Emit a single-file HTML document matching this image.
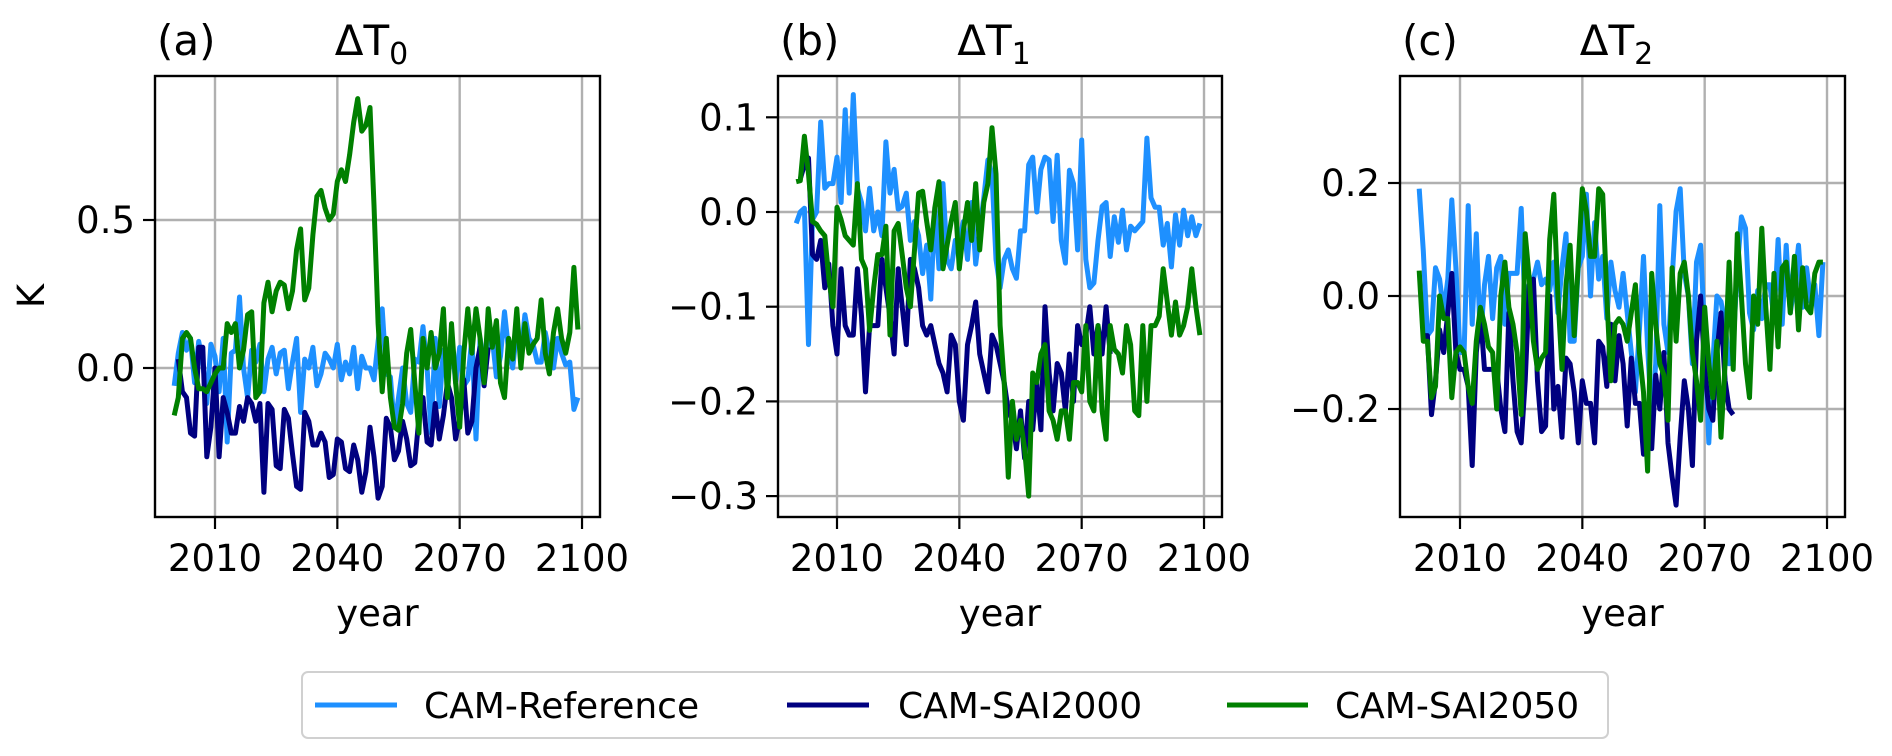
<!DOCTYPE html>
<html><head><meta charset="utf-8">
<style>
html,body{margin:0;padding:0;background:#fff;}
svg{display:block;font-family:"DejaVu Sans","Liberation Sans",sans-serif;}
</style></head>
<body>
<svg id="fig" width="1892" height="756" viewBox="0 0 1892 756" xmlns="http://www.w3.org/2000/svg">
<rect x="0" y="0" width="1892" height="756" fill="#fff"/>
<text x="44" y="296" font-size="37" text-anchor="middle" transform="rotate(-90 44 296)">K</text>
<g>
<rect x="302" y="672" width="1306" height="66" rx="6" fill="#fff" stroke="#d0d0d0" stroke-width="2"/>
<line x1="315" y1="705" x2="397" y2="705" stroke="#1e90ff" stroke-width="5"/>
<text x="424" y="718" font-size="36">CAM-Reference</text>
<line x1="787" y1="705" x2="869" y2="705" stroke="#000080" stroke-width="5"/>
<text x="898" y="718" font-size="36">CAM-SAI2000</text>
<line x1="1227" y1="705" x2="1308" y2="705" stroke="#008000" stroke-width="5"/>
<text x="1335" y="718" font-size="36">CAM-SAI2050</text>
</g>
</svg>
<script>
const xTickYears = [2010, 2040, 2070, 2100];
const refStart = 2000, sai2000Start = 2001, sai2050Start = 2000;

const refA = [
-0.06,0.05,0.12,0.06,0.10,-0.05,0.09,0.02,-0.12,0.08,
0.04,-0.08,0.10,-0.25,0.05,0.06,0.24,0.00,-0.10,0.06,
0.02,0.08,-0.08,0.03,0.07,-0.02,0.05,0.06,-0.07,0.02,
0.10,-0.15,0.03,0.00,0.07,-0.06,-0.02,0.05,0.03,0.00,
0.08,-0.04,0.02,-0.02,0.07,-0.07,0.04,0.00,0.00,-0.04,
0.09,0.20,-0.02,-0.03,-0.20,-0.10,0.00,-0.12,-0.15,0.03,
0.02,0.14,0.00,-0.22,0.10,-0.13,0.06,-0.02,0.10,-0.05,
0.07,-0.06,-0.04,0.10,-0.24,0.10,0.01,0.09,0.10,-0.03,
0.04,0.19,0.06,0.00,0.13,0.05,0.18,0.10,0.08,0.02,
0.02,0.12,0.05,0.00,0.10,0.05,0.01,0.02,-0.14,-0.10];
const sai2000A = [
0.03,-0.08,-0.10,-0.22,-0.23,0.07,0.07,-0.30,-0.20,0.00,
-0.30,-0.10,-0.15,-0.22,-0.22,-0.13,-0.18,-0.10,-0.12,-0.18,
-0.12,-0.42,-0.12,-0.14,-0.33,-0.34,-0.14,-0.17,-0.29,-0.40,
-0.41,-0.15,-0.18,-0.26,-0.26,-0.22,-0.25,-0.37,-0.36,-0.24,
-0.25,-0.34,-0.35,-0.26,-0.31,-0.42,-0.35,-0.20,-0.30,-0.44,
-0.40,-0.17,-0.20,-0.31,-0.28,-0.18,-0.24,-0.33,-0.32,-0.17,
-0.10,-0.25,-0.26,-0.12,-0.24,-0.16,-0.05,-0.10,-0.24,-0.17,
-0.04,-0.22,-0.18,0.00,0.07,-0.06,0.07];
const sai2050A = [
-0.16,-0.10,0.10,0.12,0.10,0.00,-0.07,-0.07,-0.08,-0.05,
-0.02,0.00,0.00,0.15,0.12,0.15,0.00,0.06,0.18,0.19,
-0.10,-0.08,0.22,0.29,0.19,0.26,0.29,0.28,0.20,0.26,
0.40,0.47,0.23,0.27,0.45,0.58,0.60,0.54,0.50,0.52,
0.63,0.67,0.63,0.72,0.83,0.91,0.80,0.82,0.88,0.55,
0.15,-0.08,0.10,-0.10,-0.20,-0.21,-0.12,0.05,0.13,-0.05,
-0.22,0.10,0.00,0.12,0.00,0.05,0.20,-0.10,0.15,-0.05,
-0.20,0.05,0.20,0.05,0.20,0.10,-0.05,0.20,0.07,0.16,
-0.05,-0.10,0.10,0.03,0.20,0.00,0.15,0.05,0.08,0.10,
0.23,0.05,-0.02,0.12,0.20,0.10,0.05,0.12,0.34,0.13];

const refB = [
-0.012,0.000,0.004,-0.140,-0.008,0.000,0.095,0.025,0.030,0.030,
0.058,0.010,0.108,0.020,0.124,0.025,0.010,-0.020,0.025,-0.020,
0.000,-0.025,0.074,0.020,0.045,0.003,0.006,0.020,-0.030,-0.010,
-0.025,-0.065,-0.035,-0.092,0.005,-0.060,0.030,-0.050,-0.060,-0.030,
-0.030,-0.010,-0.050,0.010,-0.055,-0.020,0.015,0.055,0.040,-0.050,
-0.080,-0.050,-0.040,-0.060,-0.070,-0.020,-0.020,0.050,0.058,0.000,
0.045,0.058,0.055,-0.010,0.060,-0.030,-0.054,0.044,0.030,-0.040,
0.076,-0.050,-0.080,-0.075,-0.030,0.006,0.010,-0.047,-0.005,-0.032,
0.002,-0.040,-0.015,-0.020,-0.015,-0.010,0.078,0.015,0.005,0.005,
-0.035,-0.012,-0.058,-0.003,-0.035,0.002,-0.025,-0.005,-0.025,-0.012];
const sai2000B = [
0.035,0.050,0.057,-0.045,-0.050,-0.030,-0.080,-0.055,-0.120,-0.150,
-0.060,-0.120,-0.130,-0.130,-0.060,-0.110,-0.190,-0.120,-0.120,-0.120,
-0.050,-0.080,-0.110,-0.150,-0.060,-0.100,-0.140,-0.050,-0.060,-0.080,
-0.120,-0.130,-0.120,-0.140,-0.160,-0.170,-0.190,-0.130,-0.140,-0.200,
-0.220,-0.140,-0.120,-0.095,-0.150,-0.170,-0.190,-0.130,-0.140,-0.160,
-0.180,-0.210,-0.220,-0.250,-0.210,-0.260,-0.200,-0.230,-0.180,-0.230,
-0.100,-0.170,-0.210,-0.160,-0.170,-0.210,-0.150,-0.200,-0.120,-0.140,
-0.130,-0.100,-0.150,-0.120,-0.150,-0.100,-0.150];
const sai2050B = [
0.032,0.033,0.080,0.040,-0.010,-0.013,-0.020,-0.025,-0.070,-0.100,
0.005,-0.008,-0.025,-0.030,-0.035,0.030,-0.050,-0.060,-0.125,-0.080,
-0.045,-0.045,-0.015,-0.130,-0.020,-0.012,-0.045,-0.080,-0.100,-0.040,
0.020,0.022,-0.010,-0.040,0.005,0.032,-0.060,-0.035,-0.010,0.010,
-0.060,-0.020,0.010,-0.030,0.030,-0.040,0.010,0.030,0.089,0.040,
-0.120,-0.180,-0.280,-0.200,-0.240,-0.220,-0.250,-0.300,-0.170,-0.180,
-0.150,-0.140,-0.210,-0.220,-0.240,-0.210,-0.210,-0.240,-0.180,-0.180,
-0.190,-0.120,-0.200,-0.210,-0.120,-0.210,-0.240,-0.120,-0.145,-0.150,
-0.170,-0.120,-0.140,-0.210,-0.215,-0.120,-0.200,-0.120,-0.120,-0.110,
-0.060,-0.095,-0.130,-0.095,-0.130,-0.120,-0.100,-0.060,-0.100,-0.130];

const refC = [
0.19,0.08,-0.07,-0.06,0.05,0.03,-0.03,0.03,0.17,0.05,
-0.10,-0.10,0.16,-0.05,0.11,-0.08,0.02,0.07,-0.04,0.05,
0.07,-0.05,0.04,0.04,0.04,0.155,-0.03,0.02,0.03,0.06,
0.02,0.03,0.01,0.06,-0.03,0.05,0.11,-0.08,-0.08,0.05,
0.07,0.18,0.00,0.13,0.03,0.07,-0.04,0.06,0.01,-0.02,
0.04,-0.03,-0.10,-0.17,-0.06,0.07,-0.09,-0.22,-0.12,0.16,
-0.05,-0.10,0.03,0.15,0.19,0.04,0.00,-0.12,0.06,0.09,
-0.07,-0.26,-0.12,0.00,-0.01,-0.05,-0.12,-0.09,0.05,0.14,
0.12,-0.03,-0.06,0.01,-0.04,0.02,0.02,-0.04,0.10,-0.05,
0.09,-0.03,0.02,0.09,-0.02,0.05,-0.01,0.02,-0.07,0.06];
const sai2000C = [
-0.07,-0.07,-0.21,-0.15,-0.06,-0.10,-0.03,0.04,-0.10,-0.13,
-0.13,-0.16,-0.30,-0.10,-0.03,-0.13,-0.13,-0.13,-0.13,-0.20,
-0.24,-0.03,-0.15,-0.24,-0.26,-0.15,0.02,0.03,-0.15,-0.24,
-0.23,0.00,-0.20,-0.16,-0.25,-0.11,-0.12,-0.17,-0.26,-0.15,
-0.19,-0.19,-0.26,-0.08,-0.09,-0.16,-0.05,-0.15,-0.07,-0.12,
-0.23,-0.11,-0.19,-0.19,-0.28,-0.20,-0.27,-0.14,-0.20,-0.10,
-0.26,-0.32,-0.37,-0.25,-0.15,-0.20,-0.30,-0.08,0.00,-0.13,
-0.20,-0.22,-0.10,-0.03,-0.15,-0.20,-0.21];
const sai2050C = [
0.045,-0.08,-0.08,-0.18,-0.16,0.00,-0.04,-0.04,-0.18,-0.10,
-0.09,-0.10,-0.16,-0.19,-0.08,-0.02,-0.05,-0.09,-0.10,-0.20,
0.00,0.06,-0.02,-0.05,-0.10,-0.21,0.11,0.03,-0.08,-0.13,
-0.11,-0.10,0.10,0.18,0.00,-0.13,0.02,0.09,-0.07,0.06,
0.19,0.15,0.07,0.07,0.19,0.18,0.00,-0.15,-0.05,-0.04,
-0.05,-0.08,-0.03,0.02,-0.10,-0.17,-0.31,0.04,-0.05,-0.12,
-0.14,-0.22,0.05,-0.08,0.04,0.06,0.00,-0.10,-0.15,-0.22,
-0.02,-0.12,-0.18,-0.08,-0.25,-0.12,0.06,-0.13,0.11,0.00,
-0.12,-0.18,0.00,-0.05,0.12,-0.02,-0.13,0.04,-0.09,0.05,
0.06,-0.03,0.07,-0.06,0.05,-0.02,-0.03,0.04,0.06,0.06];

const yTicksA = [0.0, 0.5];
const yTickLabelsA = ["0.0", "0.5"];
const yTicksB = [0.1, 0.0, -0.1, -0.2, -0.3];
const yTickLabelsB = ["0.1", "0.0", "\u22120.1", "\u22120.2", "\u22120.3"];
const yTicksC = [0.2, 0.0, -0.2];
const yTickLabelsC = ["0.2", "0.0", "\u22120.2"];

const NS = "http://www.w3.org/2000/svg";
const svg = document.getElementById("fig");
const TOP = 76, BOTTOM = 517, PXYR = 4.078;

function mk(tag, attrs, parent) {
  const e = document.createElementNS(NS, tag);
  for (const k in attrs) e.setAttribute(k, attrs[k]);
  parent.appendChild(e);
  return e;
}

function panel(cfg) {
  const g = mk("g", {}, svg);
  
  
  const xs = yr => cfg.x2010 + (yr - 2010) * PXYR;
  const ys = v => cfg.y0 - v * cfg.k;
  xTickYears.forEach(yr => {
    const l = mk("line", {x1: xs(yr), x2: xs(yr), y1: TOP, y2: BOTTOM, stroke: "#b0b0b0", "stroke-width": 2.4}, g);
    
    
  });
  cfg.yt.forEach(v => {
    const l = mk("line", {x1: cfg.left, x2: cfg.right, y1: ys(v), y2: ys(v), stroke: "#b0b0b0", "stroke-width": 2.4}, g);
    
    
  });
  const series = [[cfg.ref, refStart, "#1e90ff", "reference"], [cfg.s2000, sai2000Start, "#000080", "sai2000"], [cfg.s2050, sai2050Start, "#008000", "sai2050"]];
  const clipId = "clip-" + cfg.key;
  const cp = mk("clipPath", {id: clipId}, g);
  mk("rect", {x: cfg.left, y: TOP, width: cfg.right - cfg.left, height: BOTTOM - TOP}, cp);
  series.forEach(s => {
    const pts = s[0].map((v, i) => xs(s[1] + i).toFixed(1) + "," + ys(v).toFixed(1)).join(" ");
    const p = mk("polyline", {points: pts, fill: "none", stroke: s[2], "stroke-width": 5, "stroke-linejoin": "round", "clip-path": "url(#" + clipId + ")"}, g);
    
    
  });
  const f = mk("rect", {x: cfg.left, y: TOP, width: cfg.right - cfg.left, height: BOTTOM - TOP, fill: "none", stroke: "#000", "stroke-width": 2.4}, g);
  
  
  xTickYears.forEach(yr => {
    mk("line", {x1: xs(yr), x2: xs(yr), y1: BOTTOM, y2: BOTTOM + 12, stroke: "#000", "stroke-width": 2.2}, g);
    const t = mk("text", {x: xs(yr), y: 571, "font-size": 37, "text-anchor": "middle"}, g);
    t.textContent = String(yr);
    
    
  });
  cfg.yt.forEach((v, i) => {
    mk("line", {x1: cfg.left - 12, x2: cfg.left, y1: ys(v), y2: ys(v), stroke: "#000", "stroke-width": 2.2}, g);
    const t = mk("text", {x: cfg.left - 20, y: ys(v) + 13, "font-size": 37, "text-anchor": "end"}, g);
    t.textContent = cfg.yl[i];
    
    
  });
  const xl = mk("text", {x: (cfg.left + cfg.right) / 2, y: 626, "font-size": 37, "text-anchor": "middle"}, g);
  xl.textContent = "year";
  
  
  const pl = mk("text", {x: cfg.left + 2, y: 55, "font-size": 42}, g);
  pl.textContent = "(" + cfg.key + ")";
  
  
  const tt = mk("text", {x: (cfg.left + cfg.right) / 2 - 6, y: 55, "font-size": 42, "text-anchor": "middle"}, g);
  
  
  tt.appendChild(document.createTextNode("\u0394T"));
  const sub = mk("tspan", {"font-size": 30, dy: 9}, tt);
  sub.textContent = cfg.sub;
}

panel({key: "a", sub: "0", left: 155, right: 600, x2010: 215, y0: 368, k: 296, yt: yTicksA, yl: yTickLabelsA, ref: refA, s2000: sai2000A, s2050: sai2050A});
panel({key: "b", sub: "1", left: 778, right: 1222, x2010: 837, y0: 212, k: 947, yt: yTicksB, yl: yTickLabelsB, ref: refB, s2000: sai2000B, s2050: sai2050B});
panel({key: "c", sub: "2", left: 1400, right: 1845, x2010: 1460, y0: 296, k: 565, yt: yTicksC, yl: yTickLabelsC, ref: refC, s2000: sai2000C, s2050: sai2050C});
</script>
</body></html>
